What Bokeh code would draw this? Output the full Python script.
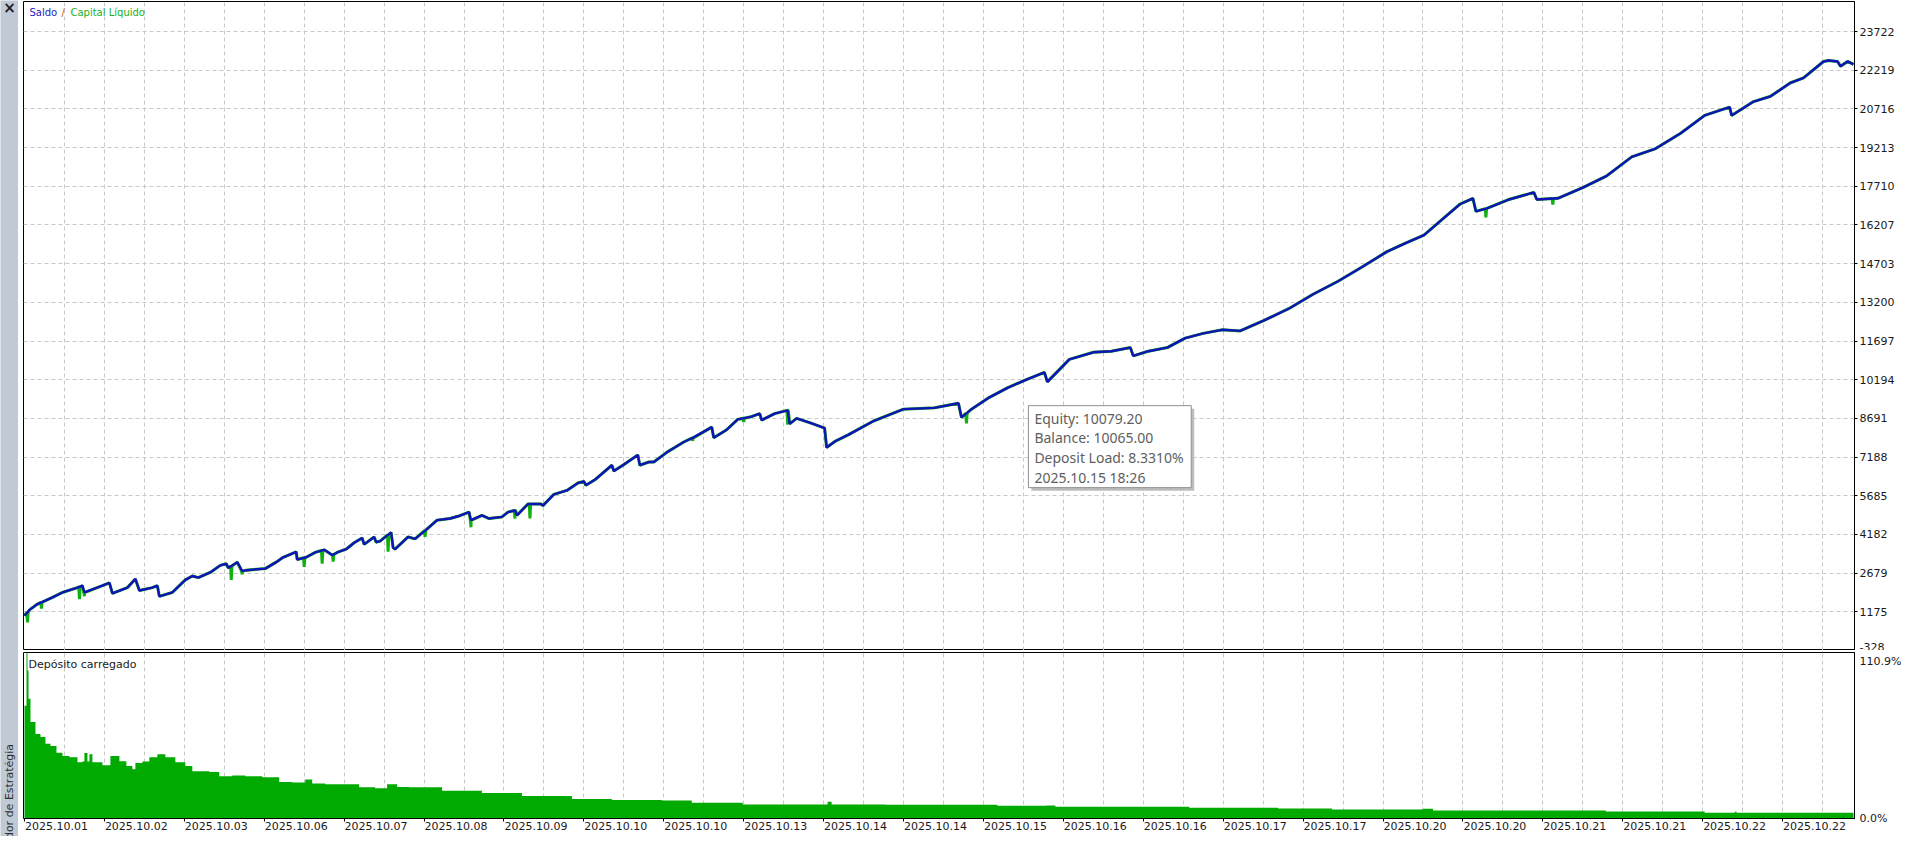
import numpy as np
from bokeh.plotting import figure
from bokeh.layouts import row, column
from bokeh.models import Range1d, FixedTicker, LinearAxis
from bokeh.core.properties import value
from bokeh.embed import file_html
from bokeh.resources import INLINE

# ---------------- data ----------------
date_labels = ["2025.10.01", "2025.10.02", "2025.10.03", "2025.10.06", "2025.10.07",
               "2025.10.08", "2025.10.09", "2025.10.10", "2025.10.10", "2025.10.13",
               "2025.10.14", "2025.10.14", "2025.10.15", "2025.10.16", "2025.10.16",
               "2025.10.17", "2025.10.17", "2025.10.20", "2025.10.20", "2025.10.21",
               "2025.10.21", "2025.10.22", "2025.10.22"]
y_ticks = [-328, 1175, 2679, 4182, 5685, 7188, 8691, 10194, 11697, 13200,
           14703, 16207, 17710, 19213, 20716, 22219, 23722]
y_top = 24888

# balance curve: time index / value
bal_t = [0, 5, 13, 28, 38, 53, 58, 60, 78, 85, 88, 103, 111, 115, 128, 133, 135, 148,
         161, 168, 174, 187, 196, 202, 204, 213, 218, 222, 241, 252, 259, 272, 273, 282,
         291, 300, 308, 313, 322, 330, 338, 340, 350, 352, 356, 367, 369, 371, 384, 391,
         402, 413, 426, 434, 445, 447, 458, 465, 478, 484, 491, 493, 504, 517, 519, 530,
         543, 554, 560, 562, 571, 588, 590, 599, 614, 616, 625, 630, 643, 660, 669, 688,
         690, 703, 714, 727, 736, 738, 751, 764, 766, 773, 786, 801, 803, 812, 825, 850,
         880, 911, 935, 938, 948, 966, 984, 1003, 1021, 1024, 1046, 1070, 1088, 1107, 1110,
         1125, 1144, 1162, 1180, 1199, 1217, 1241, 1266, 1290, 1315, 1339, 1364, 1382,
         1401, 1419, 1437, 1450, 1453, 1464, 1486, 1511, 1514, 1535, 1560, 1584, 1609,
         1633, 1658, 1682, 1707, 1709, 1731, 1748, 1768, 1781, 1801, 1806, 1815, 1818,
         1825, 1831]
bal_v = [1025, 1250, 1476, 1739, 1927, 2115, 2190, 1927, 2190, 2303, 1889, 2115, 2453,
         2002, 2115, 2190, 1776, 1927, 2415, 2566, 2503, 2729, 2980, 3043, 2880, 3105,
         2754, 2792, 2854, 3105, 3294, 3507, 3206, 3294, 3482, 3582, 3380, 3482, 3608,
         3858, 4046, 3795, 4084, 3880, 3920, 4260, 3670, 3608, 4084, 4010, 4360, 4737,
         4800, 4887, 5050, 4737, 4925, 4800, 4862, 5050, 5113, 4925, 5364, 5364, 5300,
         5740, 5891, 6179, 6242, 6090, 6305, 6870, 6643, 6870, 7271, 6870, 6995, 6995,
         7371, 7773, 7935, 8350, 7935, 8250, 8651, 8751, 8877, 8625, 8877, 9002, 8475,
         8690, 8525, 8312, 7559, 7810, 8061, 8589, 9050, 9100, 9280, 8727, 9050, 9509,
         9877, 10200, 10476, 10110, 10982, 11258, 11300, 11442, 11120, 11300, 11442,
         11810, 11994, 12132, 12090, 12500, 12961, 13513, 14020, 14571, 15170, 15492,
         15814, 16412, 17011, 17241, 16735, 16850, 17195, 17471, 17195, 17241, 17655,
         18115, 18851, 19174, 19772, 20462, 20784, 20462, 21000, 21205, 21731, 21919,
         22558, 22596, 22558, 22370, 22560, 22445]

# equity drawdown spikes below balance
dip_t = [3, 17, 55, 60, 207, 218, 280, 298, 309, 364, 401, 447, 491, 506, 669, 720, 764,
         943, 1463, 1530]
dip_v = [762, 1300, 1664, 1776, 2415, 2630, 2917, 3043, 3130, 3507, 4084, 4460, 4800,
         4800, 7810, 8550, 8450, 8497, 16500, 17000]

# deposit load (%)
load_t = [0, 2, 3, 4, 6, 11, 16, 21, 26, 32, 38, 45, 53, 58, 60, 63, 65, 68, 78, 86,
          95, 102, 108, 111, 118, 125, 133, 141, 151, 161, 168, 185, 195, 208, 221,
          238, 255, 268, 281, 288, 301, 318, 335, 351, 363, 373, 385, 418, 458, 498,
          548, 588, 638, 668, 708, 719, 804, 808, 862, 960, 974, 1023, 1032, 1166, 1255,
          1309, 1400, 1410, 1583, 1682, 1712, 1714, 1831]
load_v = [75.3, 110.9, 98.8, 80.0, 64.5, 56.5, 54.4, 50.0, 48.4, 44.0, 41.7, 41.0,
          37.6, 38.0, 43.7, 38.0, 43.0, 37.6, 35.6, 41.7, 38.3, 35.0, 32.9, 37.0,
          38.0, 41.0, 43.0, 41.0, 37.6, 35.0, 31.6, 31.0, 28.2, 28.8, 28.2, 27.5, 24.4,
          24.0, 26.1, 23.3, 22.8, 22.8, 20.8, 20.2, 22.8, 21.0, 20.8, 18.5, 17.0, 15.0,
          13.0, 12.4, 12.1, 10.5, 10.5, 9.4, 11.2, 9.4, 9.2, 9.2, 8.5, 8.7, 7.8, 7.2,
          6.7, 6.0, 6.5, 5.4, 4.7, 3.8, 4.5, 3.8, 3.8]
load_max = 110.9

tip_t = 995
tip_equity = 10079.20
tip_balance = 10065.00
tip_load = 8.3310
tip_time = "2025.10.15 18:26"

# ---------------- styling ----------------
FONT = "DejaVu Sans"
GRID = "#C8C8C8"
BLUE = "#1212B8"
GREEN = "#10B010"
BAR_GREEN = "#00AA00"
SIDEBAR = "#BFCAD6"

SIDE_W = 18
MAIN_W = 1886
TOP_H = 650
LOW_H = 186
BL, BR = 5, 48
FRAME_W = MAIN_W - BL - BR
TOP_FRAME_H = TOP_H - 1
LOW_FRAME_H = LOW_H - 2 - 18

x_rng = Range1d(-1, FRAME_W - 1)
x_grid_ticks = list(range(40, FRAME_W, 40))
x_label_ticks = [80 * i for i in range(len(date_labels))]

# ---------------- top panel ----------------
top = figure(width=MAIN_W, height=TOP_H, x_range=x_rng, y_range=Range1d(y_ticks[0], y_top),
             x_axis_location=None, y_axis_location="right", toolbar_location=None,
             output_backend="svg", min_border_left=BL, min_border_right=BR,
             min_border_top=1, min_border_bottom=0)
top.outline_line_color = "black"
top.outline_line_width = 1
top.background_fill_color = "white"
top.border_fill_color = "white"
top.xgrid.ticker = FixedTicker(ticks=x_grid_ticks)
top.ygrid.ticker = FixedTicker(ticks=y_ticks)
for g in (top.xgrid, top.ygrid):
    g.grid_line_color = GRID
    g.grid_line_dash = "4 3"
    g.grid_line_width = 1
ya = top.yaxis[0]
ya.ticker = FixedTicker(ticks=y_ticks)
ya.major_label_overrides = {t: str(t) for t in y_ticks}
ya.major_label_text_font = FONT
ya.major_label_text_font_size = "11px"
ya.major_label_text_color = "#1a1a1a"
ya.major_tick_out = 3
ya.major_tick_in = 0
ya.minor_tick_line_color = None
ya.axis_line_color = "black"
ya.major_label_standoff = 2

# equity line built from balance and drawdown spikes
pts = list(zip(bal_t, bal_v))
for t, v in zip(dip_t, dip_v):
    b = float(np.interp(t, bal_t, bal_v))
    pts += [(t - 0.7, b), (t, v), (t + 0.7, b)]
pts.sort()
eq_t = [p[0] for p in pts]
eq_v = [p[1] for p in pts]
top.line(eq_t, eq_v, line_color=GREEN, line_width=3.0)
top.line(bal_t, bal_v, line_color=BLUE, line_width=2.4)

# legend texts
py_top = (y_top - y_ticks[0]) / TOP_FRAME_H
ly = y_top - 5 * py_top
top.text(x=[-1 + 6], y=[ly], text=["Saldo"], text_color="#2525C0", text_font=value(FONT),
         text_font_size="10px", text_baseline="top")
top.text(x=[-1 + 38], y=[ly], text=["/"], text_color="#B8601C", text_font=value(FONT),
         text_font_size="10px", text_baseline="top")
top.text(x=[-1 + 47], y=[ly], text=["Capital Líquido"], text_color="#22B022",
         text_font=value(FONT), text_font_size="10px", text_baseline="top")

# tooltip box
bx_l = tip_t + 10
bx_t = tip_equity - 23 * py_top
bx_r = bx_l + 163
bx_b = bx_t - 82 * py_top
top.quad(left=[bx_l + 3], right=[bx_r + 3], top=[bx_t - 3 * py_top], bottom=[bx_b - 3 * py_top],
         fill_color="#BDBDBD", line_color=None)
top.quad(left=[bx_l], right=[bx_r], top=[bx_t], bottom=[bx_b],
         fill_color="white", line_color="#8E8E8E", line_width=1)
tip_lines = ["Equity: %.2f" % tip_equity, "Balance: %.2f" % tip_balance,
             "Deposit Load: %.4f%%" % tip_load, tip_time]
top.text(x=[bx_l + 6] * 4, y=[bx_t - d * py_top for d in (13, 32, 52, 72)], text=tip_lines,
         text_color="#5E5E5E", text_font=value("Noto Sans"), text_font_size="14px",
         text_baseline="middle")

# ---------------- lower panel ----------------
low = figure(width=MAIN_W, height=LOW_H, x_range=x_rng, y_range=Range1d(0, load_max),
             y_axis_location="right", toolbar_location=None, output_backend="svg",
             min_border_left=BL, min_border_right=BR, min_border_top=2, min_border_bottom=18)
low.outline_line_color = "black"
low.background_fill_color = "white"
low.border_fill_color = "white"
low.xgrid.ticker = FixedTicker(ticks=x_grid_ticks)
low.xgrid.grid_line_color = GRID
low.xgrid.grid_line_dash = "4 3"
low.ygrid.visible = False

lt = load_t + [FRAME_W - 2]
area_x, area_y = [lt[0]], [0]
for i, v in enumerate(load_v):
    area_x += [lt[i], lt[i + 1]]
    area_y += [v, v]
area_x.append(lt[-1])
area_y.append(0)
low.patch(area_x, area_y, fill_color=BAR_GREEN, line_color=None)

py_low = load_max / LOW_FRAME_H
low_top_tick = load_max - 9 * py_low
lya = low.yaxis[0]
lya.ticker = FixedTicker(ticks=[0, low_top_tick])
lya.major_label_overrides = {0: "0.0%", low_top_tick: "%.1f%%" % load_max}
lya.major_label_text_font = FONT
lya.major_label_text_font_size = "11px"
lya.major_label_text_color = "#1a1a1a"
lya.major_tick_out = 0
lya.major_tick_in = 0
lya.minor_tick_line_color = None
lya.major_label_standoff = 5
lya.axis_line_color = "black"

# tick marks only (no label text)
xa = low.xaxis[0]
xa.ticker = FixedTicker(ticks=x_label_ticks)
xa.major_label_overrides = {t: "" for t in x_label_ticks}
xa.major_label_text_font_size = "1px"
xa.major_tick_out = 3
xa.major_tick_in = 0
xa.minor_tick_line_color = None
xa.major_label_standoff = 0
xa.axis_line_color = "black"
# date labels, starting at each tick mark
LAB_OFF = 32
lab_ticks = [t + LAB_OFF for t in x_label_ticks]
xl = LinearAxis(ticker=FixedTicker(ticks=lab_ticks),
                major_label_overrides={t: lab for t, lab in zip(lab_ticks, date_labels)},
                major_label_text_font=FONT, major_label_text_font_size="11px",
                major_label_text_color="#1a1a1a", major_tick_out=0, major_tick_in=0,
                minor_tick_line_color=None, axis_line_color=None, major_label_standoff=0)
low.add_layout(xl, "below")

low.text(x=[-1 + 5], y=[load_max - 5 * py_low], text=["Depósito carregado"],
         text_color="#1a1a1a", text_font=value(FONT), text_font_size="11px",
         text_baseline="top")

# ---------------- sidebar ----------------
SIDE_H = TOP_H + LOW_H
side = figure(width=SIDE_W, height=SIDE_H, x_range=Range1d(0, SIDE_W), y_range=Range1d(0, SIDE_H),
              x_axis_location=None, y_axis_location=None, toolbar_location=None,
              output_backend="svg", min_border=0)
side.grid.visible = False
side.outline_line_color = None
side.background_fill_color = SIDEBAR
side.border_fill_color = SIDEBAR
side.text(x=[9], y=[SIDE_H - 7], text=["×"], text_color="#202020", text_font=value(FONT),
          text_font_size="15px", text_font_style="bold", text_align="center",
          text_baseline="middle")
side.text(x=[9], y=[-31], text=["Testador de Estratégia"], angle=np.pi / 2,
          text_color="#303030", text_font=value(FONT), text_font_size="11px",
          text_align="left", text_baseline="middle")

layout = row(side, column(top, low))
open("out.html", "w").write(file_html(layout, INLINE))
